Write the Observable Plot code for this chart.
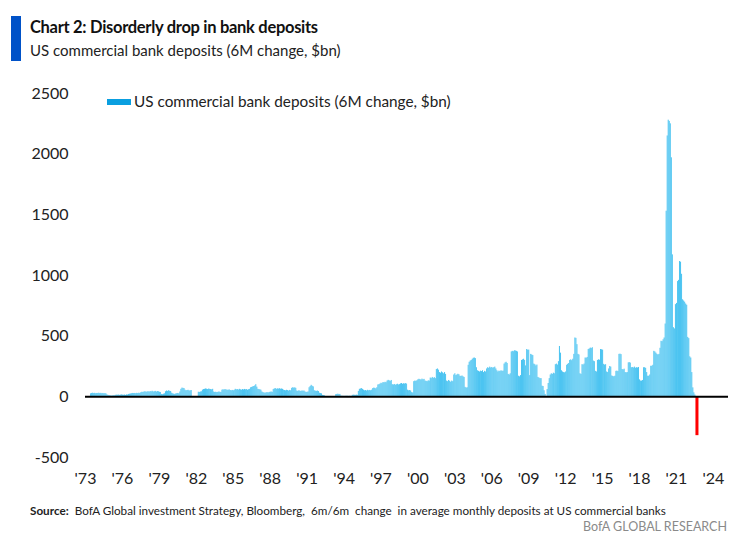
<!DOCTYPE html>
<html>
<head>
<meta charset="utf-8">
<script src="https://cdn.jsdelivr.net/npm/d3@7"></script>
<script src="https://cdn.jsdelivr.net/npm/@observablehq/plot@0.6"></script>
<style>
  html, body { margin: 0; padding: 0; background: #fff; }
  body { width: 743px; height: 544px; position: relative; overflow: hidden; font-family: Lato, "Open Sans", sans-serif; color: #222; }
  .abs { position: absolute; white-space: nowrap; }
  #bar { left: 11px; top: 16px; width: 10px; height: 45px; background: #0052c8; }
  #title { left: 30px; top: 17px; font-size: 16.5px; font-weight: 700; line-height: 20px; color: #111; letter-spacing: -0.3px; }
  #subtitle { left: 30px; top: 40px; font-size: 15px; line-height: 20px; color: #222; }
  #chart { left: 0; top: 70px; }
  #legend-swatch { left: 107px; top: 99px; width: 24px; height: 6px; background: #0a9fe0; }
  #legend-text { left: 134px; top: 91px; font-size: 15.3px; line-height: 20px; color: #222; }
  #source { left: 30px; top: 502px; font-size: 11.7px; line-height: 16px; color: #222; }
  #source b { margin-right: 6px; }
  #brand { right: 16px; top: 519px; font-size: 12.5px; line-height: 16px; color: #8a8a8a; }
</style>
</head>
<body>
<div id="bar" class="abs"></div>
<div id="title" class="abs">Chart 2: Disorderly drop in bank deposits</div>
<div id="subtitle" class="abs">US commercial bank deposits (6M change, $bn)</div>
<div id="chart" class="abs"></div>
<div id="legend-swatch" class="abs"></div>
<div id="legend-text" class="abs">US commercial bank deposits (6M change, $bn)</div>
<div id="source" class="abs"><b>Source:</b>BofA Global investment Strategy, Bloomberg,&nbsp; 6m/6m&nbsp; change&nbsp; in average monthly deposits at US commercial banks</div>
<div id="brand" class="abs">BofA GLOBAL RESEARCH</div>
<script>
// Monthly 6M change in US commercial bank deposits ($bn), first value = June 1973
const dep1970s = [
  25, 28, 30, 27, 29, 26, 28,                       // 1973 Jun-Dec
  28, 30, 27, 29, 26, 28, 25, 27, 24, 15, 12, 10,   // 1974
  8, 6, 7, 9, 8, 12, 14, 13, 15, 12, 14, 16,        // 1975
  14, 13, 15, 12, 16, 15, 20, 22, 24, 26, 28, 27,   // 1976
  28, 26, 29, 27, 30, 28, 34, 38, 36, 40, 42, 38,   // 1977
  40, 43, 38, 44, 41, 46, 40, 42, 45, 39, 44, 42,   // 1978
  38, 36, 20, 18, 22, 25, 42, 48, 45, 50, 46, 44    // 1979
];
const dep1980s = [
  30, 25, 22, 20, 24, 26, 28, 25, 40, 62, 72, 70,   // 1980
  68, 55, 50, 52, 54, 48, 50, 52, 0, 0, 0, 0,       // 1981
  0, 0, 38, 36, 40, 42, 55, 60, 62, 65, 63, 60,     // 1982
  64, 62, 60, 58, 62, 40, 36, 38, 35, 37, 40, 38,   // 1983
  36, 55, 58, 56, 60, 57, 55, 54, 58, 52, 50, 53,   // 1984
  50, 54, 62, 58, 60, 56, 62, 58, 55, 60, 57, 61,   // 1985
  58, 60, 55, 59, 62, 75, 78, 82, 85, 90, 100, 80,  // 1986
  62, 60, 58, 55, 40, 35, 32, 30, 33, 35, 32, 36,   // 1987
  38, 40, 37, 60, 65, 68, 62, 66, 64, 67, 63, 65,   // 1988
  62, 55, 52, 50, 54, 52, 48, 53, 50, 70, 75, 72    // 1989
];
const dep1990s = [
  74, 70, 48, 45, 50, 47, 44, 49, 46, 48, 40, 36,   // 1990
  38, 40, 75, 85, 95, 87, 82, 50, 47, 45, 48, 44,   // 1991
  30, 27, 25, 12, 10, 8, 1, 0, 0, 1, 0, 0,          // 1992
  0, 1, 0, 2, 18, 20, 22, 19, 20, 6, 4, 5,          // 1993
  3, 5, 4, 6, -6, 5, 4, 3, 12, 14, 13, 12,          // 1994
  14, 12, 45, 62, 65, 68, 62, 55, 50, 52, 48, 54,   // 1995
  50, 53, 50, 55, 68, 72, 70, 66, 75, 98, 100, 105, // 1996
  112, 108, 118, 115, 120, 116, 130, 136, 132, 128, 135, 100, // 1997
  98, 102, 96, 100, 104, 98, 101, 107, 110, 104, 108, 106,    // 1998
  109, 105, 55, 50, 52, 48, 35, 32, 125, 130, 128, 132        // 1999
];
const dep2000s = [
  140, 145, 142, 138, 146, 140, 144, 130, 128, 125, 132, 130, // 2000
  155, 150, 160, 152, 158, 150, 225, 230, 220, 200, 195, 205, // 2001
  198, 190, 200, 185, 130, 125, 135, 128, 120, 130, 125, 180, // 2002
  190, 175, 180, 186, 182, 170, 168, 172, 165, 160, 78, 72,   // 2003
  75, 260, 285, 295, 300, 310, 318, 320, 315, 240, 215, 210,  // 2004
  205, 212, 208, 215, 200, 210, 205, 230, 240, 235, 245, 238, // 2005
  242, 236, 240, 245, 230, 215, 205, 212, 208, 215, 210, 212, // 2006
  270, 280, 285, 275, 185, 180, 190, 370, 375, 372, 380, 378, // 2007
  375, 370, 170, 165, 175, 300, 305, 310, 300, 255, 390, 385, // 2008
  385, 175, 350, 345, 340, 270, 265, 255, 262, 160, 155, 150  // 2009
];
const dep2010s = [
  150, 88, 85, 50, 20, 2, 60, 110, 150, 180, 190, 185,        // 2010
  195, 190, 265, 270, 262, 290, 415, 360, 215, 205, 200, 198, // 2011
  205, 260, 268, 275, 300, 305, 298, 310, 350, 485, 482, 430, // 2012
  350, 345, 190, 185, 265, 262, 270, 320, 318, 325, 390, 395, // 2013
  402, 398, 405, 295, 290, 210, 205, 300, 305, 302, 390, 388, // 2014
  385, 268, 262, 265, 205, 200, 230, 250, 245, 172, 168, 165, // 2015
  170, 210, 212, 208, 350, 352, 348, 225, 222, 228, 200, 198, // 2016
  200, 280, 282, 278, 240, 242, 238, 245, 236, 240, 238, 242, // 2017
  140, 130, 130, 135, 240, 240, 235, 200, 170, 170, 180, 252, // 2018
  252, 260, 375, 370, 360, 350, 345, 350, 400, 458, 455, 470  // 2019
];
const dep2020s = [
  485, 600, 1530, 2150, 2280, 2270, 2250, 1970, 1170, 570, 560, 760, // 2020
  770, 950, 960, 1115, 1110, 1010, 800, 790, 780, 765, 755, 490,     // 2021
  480, 330, 320, 200, 74, 33, 15, 0, -320                            // 2022 Jan-Sep
];

const xTickYears = [1973, 1976, 1979, 1982, 1985, 1988, 1991, 1994, 1997, 2000, 2003, 2006, 2009, 2012, 2015, 2018, 2021, 2024];
const xTickLabels = ["'73", "'76", "'79", "'82", "'85", "'88", "'91", "'94", "'97", "'00", "'03", "'06", "'09", "'12", "'15", "'18", "'21", "'24"];
const yTicks = [-500, 0, 500, 1000, 1500, 2000, 2500];

const all = [...dep1970s, ...dep1980s, ...dep1990s, ...dep2000s, ...dep2010s, ...dep2020s];
const rows = all.map((v, i) => ({
  start: new Date(Date.UTC(1973, 5 + i, 1)),
  end: new Date(Date.UTC(1973, 6 + i, 1)),
  value: v
}));
const pos = rows.filter(d => d.value > 0);
const neg = rows.filter(d => d.value < 0);

const tickDates = xTickYears.map(y => new Date(Date.UTC(y, 0, 1)));
const labelOf = new Map(tickDates.map((d, i) => [+d, xTickLabels[i]]));

const chart = Plot.plot({
  width: 743,
  height: 420,
  marginLeft: 85,
  marginRight: 15,
  marginTop: 23,
  marginBottom: 33,
  style: { fontFamily: "Lato, 'Open Sans', sans-serif", fontSize: "16px", color: "#222", background: "transparent" },
  x: {
    type: "utc",
    domain: [new Date(Date.UTC(1973, 0, 1)), new Date(Date.UTC(2025, 2, 25))],
    ticks: tickDates,
    tickFormat: d => labelOf.get(+d),
    tickSize: 0,
    tickPadding: 15,
    label: null
  },
  y: {
    domain: [-500, 2500],
    ticks: yTicks,
    tickSize: 0,
    tickPadding: 17,
    tickFormat: d => String(d),
    label: null
  },
  marks: [
    Plot.rectY(pos, { x1: "start", x2: "end", y: "value", fill: "#4cc4f1" }),
    Plot.rectY(neg, { x1: "start", x2: "end", y: "value", fill: "#ff0000", insetLeft: -1, insetRight: -1 }),
    Plot.ruleY([0], { stroke: "#000", strokeWidth: 2 })
  ]
});
document.getElementById("chart").appendChild(chart);
</script>
</body>
</html>
